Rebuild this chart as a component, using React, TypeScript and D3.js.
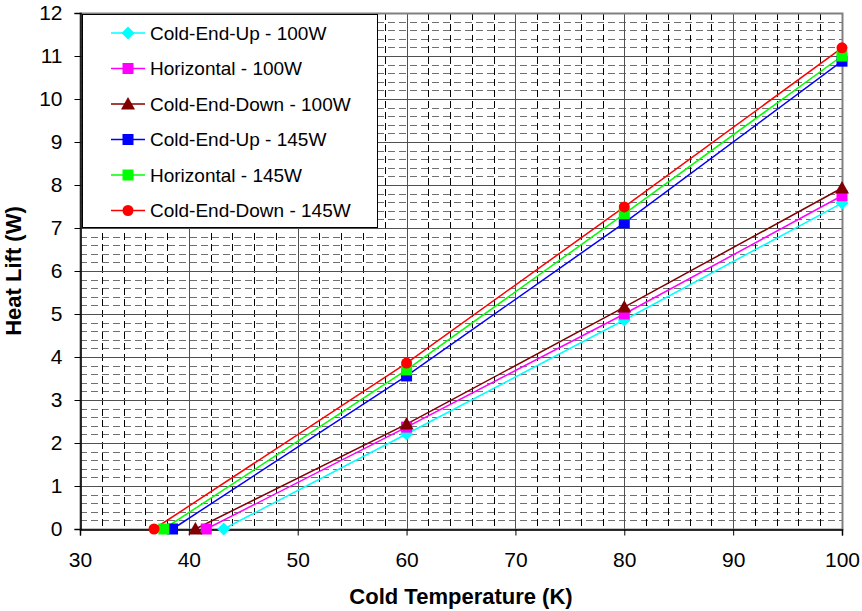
import React, { useEffect, useRef } from "react";
import * as d3 from "d3";

// series: x = cold temperature (K), y = heat lift (W)
const seriesNames = [
  "Cold-End-Up - 100W",
  "Horizontal - 100W",
  "Cold-End-Down - 100W",
  "Cold-End-Up - 145W",
  "Horizontal - 145W",
  "Cold-End-Down - 145W",
];
const seriesColors = ["#00ffff", "#ff00ff", "#800000", "#0000ff", "#00ff00", "#ff0000"];
const seriesMarkers = ["diamond", "square", "triangle", "square", "square", "circle"];

const xUp100 = [43.2, 60, 80, 100];
const yUp100 = [0, 2.21, 4.86, 7.58];
const xHor100 = [41.6, 60, 80, 100];
const yHor100 = [0, 2.37, 5.0, 7.75];
const xDown100 = [40.6, 60, 80, 100];
const yDown100 = [0, 2.44, 5.16, 7.93];
const xUp145 = [38.5, 60, 80, 100];
const yUp145 = [0, 3.56, 7.12, 10.88];
const xHor145 = [37.7, 60, 80, 100];
const yHor145 = [0, 3.7, 7.33, 11.0];
const xDown145 = [36.8, 60, 80, 100];
const yDown145 = [0, 3.86, 7.49, 11.19];

const xTicks = [30, 40, 50, 60, 70, 80, 90, 100];
const yTicks = [0, 1, 2, 3, 4, 5, 6, 7, 8, 9, 10, 11, 12];

const App = () => {
  const svgRef = useRef(null);

  useEffect(() => {
    const svg = d3.select(svgRef.current);
    svg.selectAll("*").remove();

    const width = 862;
    const height = 611;
    const left = 80;
    const right = 842;
    const top = 13;
    const bottom = 529;
    const font = "Arial, 'Liberation Sans', sans-serif";

    const x = d3.scaleLinear().domain([30, 100]).range([left, right]);
    const y = d3.scaleLinear().domain([0, 12]).range([bottom, top]);

    svg.append("rect").attr("width", width).attr("height", height).attr("fill", "#fff");

    const grid = svg.append("g");

    // minor dashed grid
    const xMinor = d3.range(32, 100, 2).filter((v) => v % 10 !== 0);
    const yMinor = d3.range(0.2, 12, 0.2).filter((v) => Math.abs(v - Math.round(v)) > 0.01);

    grid.selectAll(".ym")
      .data(yMinor)
      .enter()
      .append("line")
      .attr("x1", left)
      .attr("x2", right)
      .attr("y1", (d) => Math.round(y(d)) + 0.5)
      .attr("y2", (d) => Math.round(y(d)) + 0.5)
      .attr("stroke", "#707070")
      .attr("stroke-dasharray", "7,4");

    grid.selectAll(".xm")
      .data(xMinor)
      .enter()
      .append("line")
      .attr("x1", (d) => Math.round(x(d)) + 0.5)
      .attr("x2", (d) => Math.round(x(d)) + 0.5)
      .attr("y1", top)
      .attr("y2", bottom)
      .attr("stroke", "#000")
      .attr("stroke-dasharray", "7,4");

    // major grid
    grid.selectAll(".yM")
      .data(yTicks.slice(1))
      .enter()
      .append("line")
      .attr("x1", left)
      .attr("x2", right)
      .attr("y1", (d) => Math.round(y(d)) + 0.5)
      .attr("y2", (d) => Math.round(y(d)) + 0.5)
      .attr("stroke", "#505050");

    grid.selectAll(".xM")
      .data(xTicks.slice(1))
      .enter()
      .append("line")
      .attr("x1", (d) => Math.round(x(d)) + 0.5)
      .attr("x2", (d) => Math.round(x(d)) + 0.5)
      .attr("y1", top)
      .attr("y2", bottom)
      .attr("stroke", "#505050");

    // plot border
    svg.append("rect")
      .attr("x", left + 0.5)
      .attr("y", top + 0.5)
      .attr("width", right - left)
      .attr("height", bottom - top)
      .attr("fill", "none")
      .attr("stroke", "#808080")
      .attr("stroke-width", 2);

    // axes
    const xAxis = d3.axisBottom(x).tickValues(xTicks).tickSize(6).tickPadding(17);
    const gx = svg.append("g").attr("transform", `translate(0,${bottom + 0.5})`).call(xAxis);
    const yAxis = d3.axisLeft(y).tickValues(yTicks).tickSize(6).tickPadding(12);
    const gy = svg.append("g").attr("transform", `translate(${left + 0.5},0)`).call(yAxis);
    [gx, gy].forEach((g) => {
      g.select(".domain").attr("stroke", "#000").attr("stroke-width", 1.5);
      g.selectAll("line").attr("stroke", "#000");
      g.selectAll("text")
        .attr("fill", "#000")
        .style("font-family", font)
        .style("font-size", "21px");
    });

    // axis titles
    svg.append("text")
      .attr("x", (left + right) / 2)
      .attr("y", 604)
      .attr("text-anchor", "middle")
      .style("font-family", font)
      .style("font-size", "22px")
      .style("font-weight", "bold")
      .text("Cold Temperature (K)");

    svg.append("text")
      .attr("transform", `translate(21,${(top + bottom) / 2}) rotate(-90)`)
      .attr("text-anchor", "middle")
      .style("font-family", font)
      .style("font-size", "22px")
      .style("font-weight", "bold")
      .text("Heat Lift (W)");

    const xs = [xUp100, xHor100, xDown100, xUp145, xHor145, xDown145];
    const ys = [yUp100, yHor100, yDown100, yUp145, yHor145, yDown145];

    const drawMarker = (g, kind, color, cx, cy) => {
      if (kind === "circle") {
        g.append("circle").attr("cx", cx).attr("cy", cy).attr("r", 5.5).attr("fill", color);
      } else if (kind === "square") {
        g.append("rect").attr("x", cx - 5.5).attr("y", cy - 5.5).attr("width", 11).attr("height", 11).attr("fill", color);
      } else if (kind === "triangle") {
        g.append("path").attr("d", `M${cx},${cy - 7}L${cx + 7},${cy + 5.5}L${cx - 7},${cy + 5.5}Z`).attr("fill", color);
      } else {
        g.append("path").attr("d", `M${cx},${cy - 6.5}L${cx + 6.5},${cy}L${cx},${cy + 6.5}L${cx - 6.5},${cy}Z`).attr("fill", color);
      }
    };

    const line = d3.line().x((d) => x(d[0])).y((d) => y(d[1]));
    const plot = svg.append("g");
    seriesNames.forEach((name, i) => {
      const pts = xs[i].map((v, j) => [v, ys[i][j]]);
      plot.append("path")
        .datum(pts)
        .attr("d", line)
        .attr("fill", "none")
        .attr("stroke", seriesColors[i])
        .attr("stroke-width", 1.5);
    });
    seriesNames.forEach((name, i) => {
      xs[i].forEach((v, j) => drawMarker(plot, seriesMarkers[i], seriesColors[i], x(v), y(ys[i][j])));
    });

    // legend
    const legend = svg.append("g");
    legend.append("rect")
      .attr("x", 82.5)
      .attr("y", 14.5)
      .attr("width", 295)
      .attr("height", 213)
      .attr("fill", "#fff")
      .attr("stroke", "#000");
    seriesNames.forEach((name, i) => {
      const ly = 33 + i * 35.5;
      legend.append("line")
        .attr("x1", 111)
        .attr("x2", 145)
        .attr("y1", ly)
        .attr("y2", ly)
        .attr("stroke", seriesColors[i])
        .attr("stroke-width", 1.5);
      drawMarker(legend, seriesMarkers[i], seriesColors[i], 128, ly);
      legend.append("text")
        .attr("x", 150)
        .attr("y", ly)
        .attr("dy", "0.36em")
        .style("font-family", font)
        .style("font-size", "19px")
        .text(name);
    });
  }, []);

  return <svg ref={svgRef} width={862} height={611} style={{ display: "block", position: "absolute", left: 0, top: 0 }}></svg>;
};

export default App;
